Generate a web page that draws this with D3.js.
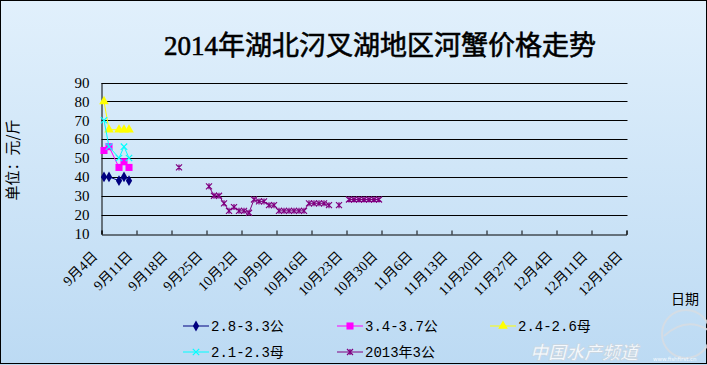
<!DOCTYPE html>
<html><head><meta charset="utf-8">
<script src="https://cdn.jsdelivr.net/npm/d3@7"></script>
<style>body{margin:0;background:#fff}svg{display:block}</style>
</head><body>
<svg id="c" width="707" height="365"></svg>
<script>
const title = "2014年湖北汈叉湖地区河蟹价格走势";
const yLabel = "单位：元/斤";
const xLabel = "日期";
const yTicks = [10, 20, 30, 40, 50, 60, 70, 80, 90];
const xTickLabels = ["9月4日","9月11日","9月18日","9月25日","10月2日","10月9日","10月16日","10月23日","10月30日","11月6日","11月13日","11月20日","11月27日","12月4日","12月11日","12月18日"];

const dates2014 = ["2014-09-04","2014-09-05","2014-09-07","2014-09-08","2014-09-09"];
const s28_33gong = [40, 40, 38, 40, 38];
const s34_37gong = [54, 56, 45, 48, 45];
const s24_26mu   = [80, 65, 65, 65, 65];
const s21_23mu   = [70, 56, 50, 56, 50];

const dates2013 = ["2014-09-19","2014-09-20","2014-09-21","2014-09-22","2014-09-23","2014-09-24","2014-09-25","2014-09-26","2014-09-27","2014-09-28","2014-09-29","2014-09-30",
  "2014-10-01","2014-10-02","2014-10-03","2014-10-04","2014-10-05","2014-10-06","2014-10-07","2014-10-08","2014-10-09","2014-10-10",
  "2014-10-11","2014-10-12","2014-10-13","2014-10-14","2014-10-15","2014-10-16","2014-10-17","2014-10-18","2014-10-19","2014-10-20",
  "2014-10-21","2014-10-22","2014-10-23","2014-10-24","2014-10-25","2014-10-26","2014-10-27","2014-10-28","2014-10-29"];
const s2013_3gong = [45, null, null, null, null, null, 35, 30, 30, 26, 22, 24,
  22, 22, 21, 28, 27, 27, 25, 25, 22, 22,
  22, 22, 22, 22, 26, 26, 26, 26, 25, null,
  25, null, 28, 28, 28, 28, 28, 28, 28];

const seriesNames = ["2.8-3.3公", "3.4-3.7公", "2.4-2.6母", "2.1-2.3母", "2013年3公"];
const seriesColors = ["#000080", "#ff00ff", "#ffff00", "#00ffff", "#800080"];

const parse = d3.utcParse("%Y-%m-%d");
const svg = d3.select("#c");
const W = 707, H = 365;

// background
const defs = svg.append("defs");
const grad = defs.append("linearGradient").attr("id","bg").attr("x1",0).attr("y1",0).attr("x2",0).attr("y2",1);
grad.append("stop").attr("offset","0%").attr("stop-color","#e1f0fc");
grad.append("stop").attr("offset","100%").attr("stop-color","#bcdaf3");
svg.append("rect").attr("x",0).attr("y",0).attr("width",W).attr("height",H).attr("fill","url(#bg)");
svg.append("rect").attr("x",0.5).attr("y",0.5).attr("width",W-1).attr("height",363).attr("fill","none").attr("stroke","#000").attr("stroke-width",1);

const start = parse("2014-09-04");
const tickDates = xTickLabels.map((_, i) => d3.utcDay.offset(start, 7 * i));
const x = d3.scaleUtc().domain([start, tickDates[tickDates.length - 1]]).range([101.5, 626.5]);
const y = d3.scaleLinear().domain([10, 90]).range([233.5, 82.5]);
const xp = d => x(d3.utcHour.offset(d, 12));

// gridlines
svg.append("g").selectAll("line").data(yTicks.filter(v => v > 10)).join("line")
  .attr("x1", x.range()[0]).attr("x2", x.range()[1] + 1)
  .attr("y1", d => Math.round(y(d)) + 0.5).attr("y2", d => Math.round(y(d)) + 0.5)
  .attr("stroke", "#000").attr("stroke-width", 1);

// y axis
const yAxis = d3.axisLeft(y).tickValues(yTicks).tickSize(0).tickPadding(12);
const gy = svg.append("g").attr("transform", `translate(${x.range()[0]},0)`).call(yAxis);
gy.select(".domain").attr("stroke", "#000");
gy.selectAll("text").attr("font-family", "'Liberation Serif', serif").attr("font-size", 15).attr("fill", "#000");

// x axis
const xAxis = d3.axisBottom(x).tickValues(tickDates).tickSize(-4).tickFormat("");
const gx = svg.append("g").attr("transform", `translate(0,${Math.round(y(10)) + 0.5})`).call(xAxis);
gx.select(".domain").attr("stroke", "#000");
gx.selectAll(".tick line").attr("stroke", "#000");

svg.append("g").selectAll("text").data(tickDates).join("text")
  .attr("transform", (d) => `translate(${x(d) - 3},257) rotate(-45)`)
  .attr("text-anchor", "end")
  .attr("font-family", "'Liberation Serif', 'Noto Sans CJK SC', serif")
  .attr("font-size", 14).attr("fill", "#000")
  .text((d, i) => xTickLabels[i]);

// series
function starPath(r) { return `M${-r},${-r}L${r},${r}M${-r},${r}L${r},${-r}M0,${-r}L0,${r}`; }
function xPath(r) { return `M${-r},${-r}L${r},${r}M${-r},${r}L${r},${-r}`; }
const markers = [
  { path: d3.symbol(d3.symbolDiamond, 34)(), fill: true },
  { path: d3.symbol(d3.symbolSquare, 50)(), fill: true },
  { path: d3.symbol(d3.symbolTriangle, 40)(), fill: true },
  { path: xPath(3.2), fill: false },
  { path: starPath(3), fill: false }
];

const d2014 = dates2014.map(parse);
const d2013 = dates2013.map(parse);
const seriesData = [
  d2014.map((d, i) => ({ d, v: s28_33gong[i] })),
  d2014.map((d, i) => ({ d, v: s34_37gong[i] })),
  d2014.map((d, i) => ({ d, v: s24_26mu[i] })),
  d2014.map((d, i) => ({ d, v: s21_23mu[i] })),
  d2013.map((d, i) => ({ d, v: s2013_3gong[i] }))
];

const line = d3.line().defined(p => p.v != null).x(p => xp(p.d)).y(p => y(p.v));
seriesData.forEach((data, k) => {
  const g = svg.append("g");
  g.append("path").attr("d", line(data)).attr("fill", "none").attr("stroke", seriesColors[k]).attr("stroke-width", 1);
  g.selectAll("path.m").data(data.filter(p => p.v != null)).join("path").attr("class", "m")
    .attr("transform", p => `translate(${xp(p.d)},${y(p.v)})`)
    .attr("d", markers[k].path)
    .attr("fill", markers[k].fill ? seriesColors[k] : "none")
    .attr("stroke", seriesColors[k]).attr("stroke-width", markers[k].fill ? 0 : 1.2);
});

// title
svg.append("text").attr("x", 380).attr("y", 55).attr("text-anchor", "middle")
  .attr("font-family", "'Liberation Serif', 'Noto Sans CJK SC', serif")
  .attr("font-size", 27).attr("font-weight", "normal").attr("stroke", "#000").attr("stroke-width", 0.6)
  .attr("fill", "#000").text(title);

// y label
svg.append("text").attr("transform", "translate(18,160) rotate(-90)").attr("text-anchor", "middle")
  .attr("font-family", "'Noto Sans CJK SC', sans-serif").attr("font-size", 15).attr("fill", "#000").text(yLabel);

// x label
svg.append("text").attr("x", 671).attr("y", 304)
  .attr("font-family", "'Noto Sans CJK SC', sans-serif").attr("font-size", 14).attr("fill", "#000").text(xLabel);

// watermark globe
const wm = svg.append("g").attr("opacity", 0.85);
wm.append("circle").attr("cx", 686).attr("cy", 334).attr("r", 24).attr("fill", "none").attr("stroke", "#d8dde3").attr("stroke-width", 2);
wm.append("path").attr("d", "M664,336 Q686,316 708,330").attr("fill", "none").attr("stroke", "#d8dde3").attr("stroke-width", 2);

// legend
const legendPos = [[183, 326], [337, 326], [490, 326], [183, 352], [337, 352]];
seriesNames.forEach((name, k) => {
  const [lx, ly] = legendPos[k];
  const g = svg.append("g");
  g.append("line").attr("x1", lx).attr("x2", lx + 26).attr("y1", ly).attr("y2", ly).attr("stroke", seriesColors[k]).attr("stroke-width", 1);
  g.append("path").attr("transform", `translate(${lx + 13},${ly})`).attr("d", markers[k].path)
    .attr("fill", markers[k].fill ? seriesColors[k] : "none")
    .attr("stroke", seriesColors[k]).attr("stroke-width", markers[k].fill ? 0 : 1.2);
  g.append("text").attr("x", lx + 28).attr("y", ly).attr("dy", "0.36em")
    .attr("font-family", "'Liberation Mono', 'Noto Sans CJK SC', monospace").attr("font-size", 14).attr("fill", "#000").text(name);
});

wm.append("text").attr("x", 530).attr("y", 359).attr("font-family", "'Noto Sans CJK SC', sans-serif")
  .attr("font-size", 18).attr("font-weight", "bold").attr("font-style", "italic")
  .attr("fill", "#ffffff").attr("stroke", "#c9d3dc").attr("stroke-width", 0.6).text("中国水产频道");
wm.append("text").attr("x", 653).attr("y", 361).attr("font-family", "'DejaVu Sans', sans-serif")
  .attr("font-size", 5.5).attr("fill", "#ffffff").text("www.fishfirst.cn");
</script>
</body></html>
